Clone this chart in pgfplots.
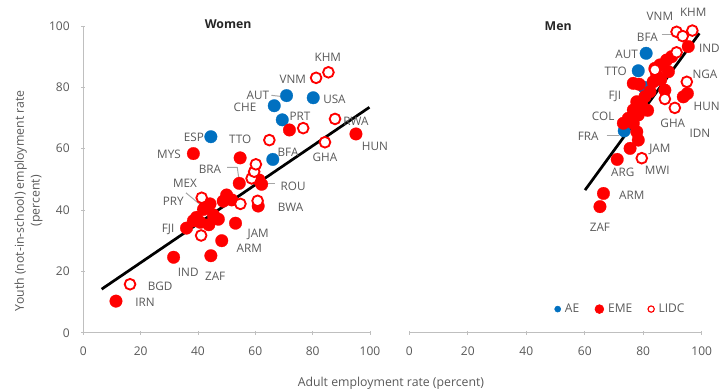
\documentclass[border=0pt]{standalone}
\usepackage{pgfplots}
\pgfplotsset{compat=1.18}
\usepackage{fontspec}
\setmainfont{Open Sans}
\definecolor{aeblue}{HTML}{0070C0}
\definecolor{emered}{HTML}{FF0000}
\definecolor{txtgray}{HTML}{595959}
\definecolor{axgray}{HTML}{BFBFBF}
\pgfplotsset{
  base/.style={
    scale only axis, height=214.7pt,
    xmin=0, xmax=100, ymin=0, ymax=100,
    clip=false,
    xtick={0,20,40,60,80,100},
    tick align=inside, major tick length=3pt,
    tick style={axgray, line width=0.6pt},
    axis line style={axgray, line width=0.7pt},
    ticklabel style={font=\fontsize{8.4}{10}\selectfont, text=txtgray},
    /pgf/number format/assume math mode=true,
    xticklabel style={yshift=-4.5pt},
  },
  ae/.style={only marks, forget plot, mark=*, mark size=4.4pt, mark options={fill=aeblue, draw=aeblue, line width=0.2pt}},
  eme/.style={only marks, forget plot, mark=*, mark size=4.4pt, mark options={fill=emered, draw=emered, line width=0.2pt}},
  lidc/.style={only marks, forget plot, mark=*, mark size=3.75pt, mark options={fill=white, draw=emered, line width=1.3pt}},
  fit/.style={black, forget plot, line width=1.9pt, no marks},
}
\tikzset{lbl/.style={font=\fontsize{8.2}{10}\selectfont, text=txtgray, inner sep=0.5pt},
  lead/.style={draw=gray!70, line width=0.7pt}}
\begin{document}
\begin{tikzpicture}
\useasboundingbox (-58.3pt,-41.5pt) rectangle (447.1pt,232.9pt);
% ---------------- Women ----------------
\begin{axis}[base, width=200.7pt, at={(0pt,0pt)},
  axis x line=bottom, axis y line=left,
  ytick={0,20,40,60,80,100},
  yticklabel style={xshift=-4.5pt},
  x axis line style={-}, y axis line style={-},
]
\addplot[ae] coordinates {(44.5,63.9) (66.1,56.5) (66.6,74.0) (70.9,77.3) (69.4,69.4) (80.2,76.6)};
\addplot[eme] coordinates {
(11.4,10.3) (31.5,24.6) (44.5,25.1) (48.3,30.0) (53.1,35.7) (43.8,35.2) (47.1,37.0)
(36.0,34.1) (38.4,36.5) (39.5,37.6) (41.9,40.2) (44.2,42.0) (42.6,41.2) (48.8,42.9)
(50.0,44.9) (51.8,43.3) (54.4,48.7) (62.2,48.4) (61.3,49.8) (61.0,41.3) (54.7,57.0)
(38.4,58.4) (71.9,66.1) (95.1,64.8) (45.4,38.4) (40.8,36.0)};
\addplot[lidc] coordinates {
(16.3,15.8) (41.1,31.7) (41.3,44.0) (54.8,42.0) (60.8,43.0) (58.7,50.3) (59.6,52.5)
(60.2,54.9) (64.9,62.8) (76.7,66.7) (84.3,62.1) (87.8,69.7) (81.2,83.1) (85.5,84.9)};
\addplot[fit] coordinates {(6.4,14.2) (99.8,73.5)};
% labels
\node[lbl] at (axis cs:85.3,89.9) {KHM};
\node[lbl] at (axis cs:73.1,82.7) {VNM};
\node[lbl] at (axis cs:60.9,77.5) {AUT};
\draw[lead] (axis cs:65.6,77.4) -- (axis cs:69.3,77.0);
\node[lbl] at (axis cs:87.6,76.2) {USA};
\node[lbl] at (axis cs:56.4,73.6) {CHE};
\node[lbl] at (axis cs:75.6,70.7) {PRT};
\node[lbl] at (axis cs:95.1,69.0) {RWA};
\node[lbl] at (axis cs:101.7,60.9) {HUN};
\node[lbl] at (axis cs:84.3,57.3) {GHA};
\node[lbl] at (axis cs:38.6,63.8) {ESP};
\node[lbl] at (axis cs:29.9,58.0) {MYS};
\node[lbl] at (axis cs:54.7,63.1) {TTO};
\node[lbl] at (axis cs:71.4,58.9) {BFA};
\node[lbl] at (axis cs:44.2,53.3) {BRA};
\draw[lead] (axis cs:50.2,53.9) -- (axis cs:53.7,53.9) -- (axis cs:54.2,50.6);
\node[lbl] at (axis cs:73.2,47.8) {ROU};
\draw[lead] (axis cs:62.8,48.7) -- (axis cs:66.9,48.7);
\node[lbl] at (axis cs:35.5,48.7) {MEX};
\draw[lead] (axis cs:35.8,45.6) -- (axis cs:41.9,40.9);
\node[lbl] at (axis cs:31.4,43.0) {PRY};
\node[lbl] at (axis cs:72.3,40.9) {BWA};
\node[lbl] at (axis cs:29.6,33.7) {FJI};
\node[lbl] at (axis cs:61.0,32.2) {JAM};
\node[lbl] at (axis cs:57.9,27.5) {ARM};
\node[lbl] at (axis cs:36.6,19.6) {IND};
\node[lbl] at (axis cs:46.0,18.5) {ZAF};
\node[lbl] at (axis cs:26.8,15.2) {BGD};
\node[lbl] at (axis cs:21.5,10.0) {IRN};
\node[font=\fontsize{8.6}{10}\bfseries, text=black!85] at (axis description cs:0.505,1.0065) {Women};
\node[font=\fontsize{8.6}{11}\selectfont, text=txtgray, align=center, rotate=90] at (axis description cs:-0.191,0.43) {Youth (not-in-school) employment rate\\(percent)};
\node[font=\fontsize{8.6}{10}\selectfont, text=txtgray] at (axis description cs:1.073,-0.164) {Adult employment rate (percent)};
\end{axis}
% ---------------- Men ----------------
\begin{axis}[base, width=204.7pt, at={(228.2pt,0pt)},
  axis x line=bottom, axis y line=none,
  x axis line style={-},
  legend style={at={(axis description cs:0.724,0.077)}, anchor=center, draw=none, fill=none,
    font=\fontsize{8.4}{10}\selectfont, text=txtgray, inner sep=0pt,
    /tikz/every odd column/.style={column sep=1pt},
    /tikz/every even column/.style={column sep=9pt}},
  legend columns=3,
  legend cell align=left,
]
\addplot[ae] coordinates {(81.0,91.1) (78.3,85.4) (80.3,80.0) (73.5,65.8)};
\addplot[eme] coordinates {
(95.4,93.3) (89.7,90.0) (88.0,88.9) (85.7,87.3) (84.0,86.2) (84.6,84.0) (88.6,85.1)
(83.4,81.8) (76.6,81.3) (78.6,81.0) (87.4,79.1) (95.1,78.0) (93.7,76.9) (82.3,78.6)
(80.6,77.0) (77.8,75.3) (79.5,74.2) (76.6,72.6) (78.3,71.0) (74.9,69.9) (73.2,68.3)
(76.6,68.3) (77.8,65.5) (78.3,62.8) (75.5,60.1) (71.1,56.5) (66.4,45.4) (65.2,41.1)
(81.5,72.5) (86.0,82.5)};
\addplot[lidc] coordinates {
(96.8,98.5) (91.4,98.1) (93.5,96.7) (91.4,91.4) (94.9,81.8) (87.4,76.2) (90.8,73.3)
(84.0,85.7) (79.5,56.9)};
\addplot[fit] coordinates {(60.1,46.5) (99.2,97.6)};
\node[lbl] at (axis cs:97.1,104.3) {KHM};
\node[lbl] at (axis cs:85.7,103.0) {VNM};
\node[lbl] at (axis cs:81.4,96.3) {BFA};
\draw[lead] (axis cs:86.3,97.1) -- (axis cs:92.0,97.1);
\node[lbl] at (axis cs:102.6,92.7) {IND};
\node[lbl] at (axis cs:74.3,90.8) {AUT};
\node[lbl] at (axis cs:70.6,85.1) {TTO};
\node[lbl] at (axis cs:101.1,84.4) {NGA};
\node[lbl] at (axis cs:70.3,77.0) {FJI};
\node[lbl] at (axis cs:101.7,73.9) {HUN};
\node[lbl] at (axis cs:66.3,70.7) {COL};
\node[lbl] at (axis cs:90.1,68.3) {GHA};
\node[lbl] at (axis cs:99.4,65.0) {IDN};
\node[lbl] at (axis cs:61.2,64.1) {FRA};
\draw[lead] (axis cs:67.5,64.2) -- (axis cs:71.8,64.2);
\node[lbl] at (axis cs:85.7,59.8) {JAM};
\node[lbl] at (axis cs:84.8,52.8) {MWI};
\node[lbl] at (axis cs:73.0,52.4) {ARG};
\node[lbl] at (axis cs:76.1,44.8) {ARM};
\node[lbl] at (axis cs:65.2,34.5) {ZAF};
\node[font=\fontsize{8.6}{10}\bfseries, text=black!85] at (axis description cs:0.509,1.0) {Men};
\addlegendimage{only marks, mark=*, mark size=2.1pt, mark options={fill=aeblue, draw=aeblue}}
\addlegendentry{AE}
\addlegendimage{only marks, mark=*, mark size=3.1pt, mark options={fill=emered, draw=emered}}
\addlegendentry{EME}
\addlegendimage{only marks, mark=*, mark size=2.2pt, mark options={fill=white, draw=emered, line width=0.8pt}}
\addlegendentry{LIDC}
\end{axis}
\end{tikzpicture}
\end{document}
